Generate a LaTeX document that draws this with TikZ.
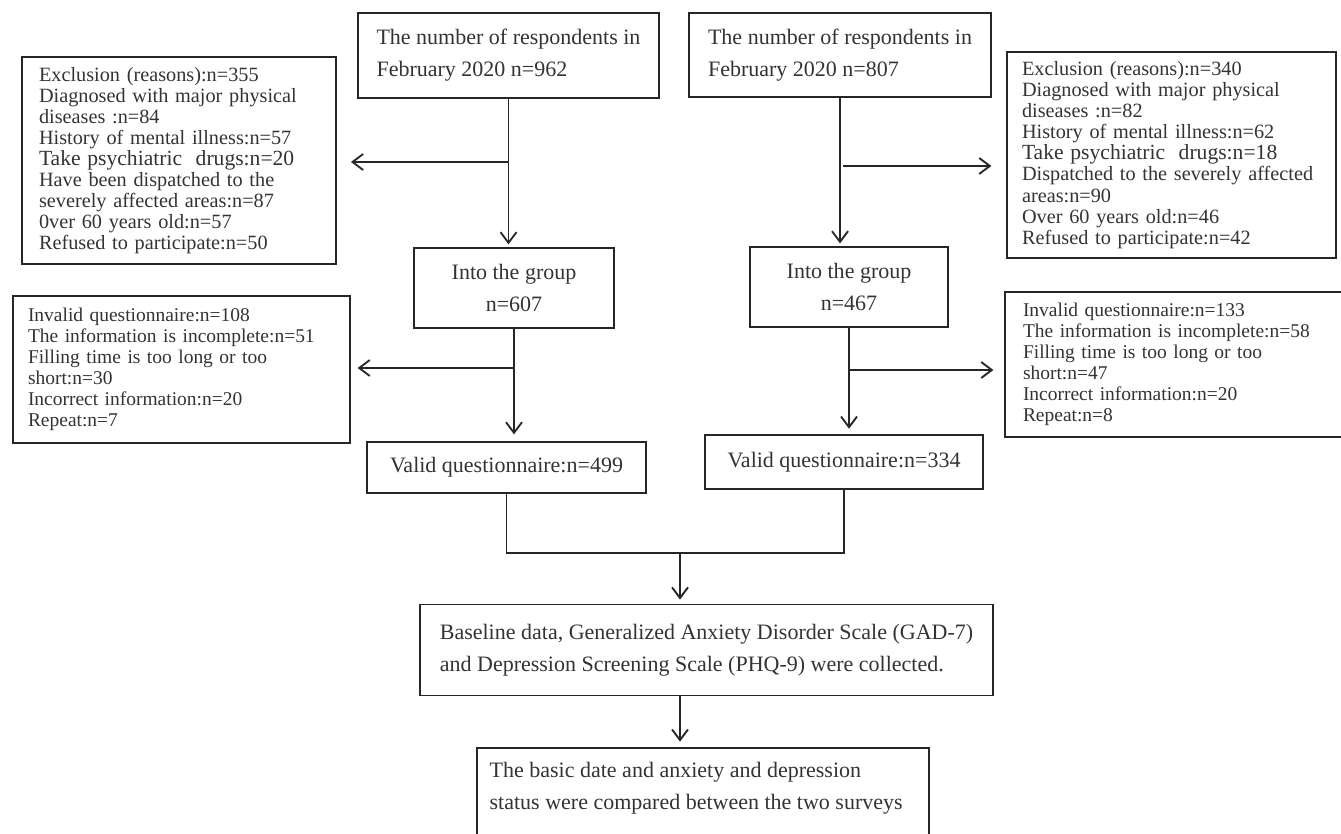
\documentclass[tikz,border=0pt]{standalone}
\usepackage{fontspec}
\setmainfont{Liberation Serif}
\usepackage{tikz}
\usetikzlibrary{arrows.meta,positioning}
\definecolor{FlowLine}{HTML}{262626}
\definecolor{FlowText}{HTML}{333333}

\begin{document}
\begin{tikzpicture}[
    x=0.75pt, y=-0.75pt,
    box/.style={rectangle, draw=FlowLine, line width=1.4pt, text=FlowText, inner sep=0pt},
    mainbox/.style={box, font=\fontsize{16.5pt}{24pt}\selectfont},
    sidebox/.style={box, align=left, text width=#1, font=\fontsize{15.2pt}{15.8pt}\selectfont},
    lowbox/.style={sidebox=#1, font=\fontsize{14.6pt}{15.8pt}\selectfont},
    arrow/.style={-{Straight Barb[length=8pt, width=12pt]}, line width=1.4pt, draw=FlowLine},
    link/.style={line width=1.4pt, draw=FlowLine}
]
\useasboundingbox (0,0) rectangle (1341,834);

% Top Layer: the two surveys
\node[mainbox, align=left, minimum width=225.75pt, minimum height=63.75pt] (resp1) at (508.5,55.5) {The number of respondents in\\February 2020 n=962};
\node[mainbox, align=left, minimum width=226.5pt, minimum height=63pt] (resp2) at (840,55) {The number of respondents in\\February 2020 n=807};

% Exclusion boxes
\node[sidebox=210pt, minimum width=235.5pt, minimum height=155.25pt] (excl1) at (179,160.5) {Exclusion (reasons):n=355\\Diagnosed with major physical\\diseases :n=84\\History of mental illness:n=57\\{\fontsize{16.2pt}{15.8pt}\selectfont Take psychiatric\ \ drugs:n=20}\\Have been dispatched to the\\severely affected areas:n=87\\0ver 60 years old:n=57\\Refused to participate:n=50};
\node[sidebox=224.25pt, minimum width=246.75pt, minimum height=154.5pt] (excl2) at (1171.5,155) {Exclusion (reasons):n=340\\Diagnosed with major physical\\diseases :n=82\\History of mental illness:n=62\\{\fontsize{16.2pt}{15.8pt}\selectfont Take psychiatric\ \ drugs:n=18}\\Dispatched to the severely affected\\areas:n=90\\Over 60 years old:n=46\\Refused to participate:n=42};

% Middle Layer: enrolled
\node[mainbox, align=center, minimum width=150pt, minimum height=60pt] (into1) at (514,288) {Into the group\\n=607};
\node[mainbox, align=center, minimum width=148.5pt, minimum height=60pt] (into2) at (849,287) {Into the group\\n=467};

% Invalid questionnaires
\node[lowbox=230.25pt, minimum width=252.75pt, minimum height=110.25pt] (inv1) at (181.5,369.5) {Invalid questionnaire:n=108\\The information is incomplete:n=51\\Filling time is too long or too\\short:n=30\\Incorrect information:n=20\\Repeat:n=7};
\node[lowbox=228.75pt, minimum width=255.75pt, minimum height=108.75pt] (inv2) at (1175.5,364.5) {Invalid questionnaire:n=133\\The information is incomplete:n=58\\Filling time is too long or too\\short:n=47\\Incorrect information:n=20\\Repeat:n=8};

% Valid questionnaires
\node[mainbox, minimum width=209.25pt, minimum height=38.25pt] (valid1) at (506.5,467.5) {Valid questionnaire:n=499};
\node[mainbox, minimum width=208.5pt, minimum height=40.5pt] (valid2) at (844,462) {Valid questionnaire:n=334};

% Bottom Layer
\node[mainbox, align=left, minimum width=429.75pt, minimum height=68.25pt] (base) at (706.5,650) {Baseline data, Generalized Anxiety Disorder Scale (GAD-7)\\and Depression Screening Scale (PHQ-9) were collected.};
\node[mainbox, anchor=north, inner xsep=9.5pt, inner ysep=11pt] (final) at (703,747) {\parbox[c][80pt][t]{320pt}{\raggedright The basic date and anxiety and depression\\status were compared between the two surveys}};

% Connections
\draw[arrow, shorten >=2pt] (resp1.south) -- (resp1.south |- into1.north);
\draw[arrow, shorten >=10.5pt] (resp1.south |- 0,162) -- (excl1.east |- 0,162);
\draw[arrow, shorten >=2pt] (resp2.south) -- (resp2.south |- into2.north);
\draw[arrow, shorten >=11pt] ([xshift=2pt]resp2.south |- 0,166) -- (excl2.west |- 0,166);

\draw[arrow, shorten >=5pt] (into1.south) -- (into1.south |- valid1.north);
\draw[arrow, shorten >=5pt] (into1.south |- 0,368) -- (inv1.east |- 0,368);
\draw[arrow, shorten >=4pt] (into2.south) -- (into2.south |- valid2.north);
\draw[arrow, shorten >=8pt] (into2.south |- 0,370) -- (inv2.west |- 0,370);

\coordinate (merge) at (680,553);
\draw[link] (valid1.south) |- (merge) -| (valid2.south);
\draw[arrow, shorten >=3pt] (merge) -- (merge |- base.north);
\draw[arrow, shorten >=4pt] (base.south -| merge) -- (final.north -| merge);

\end{tikzpicture}
\end{document}
